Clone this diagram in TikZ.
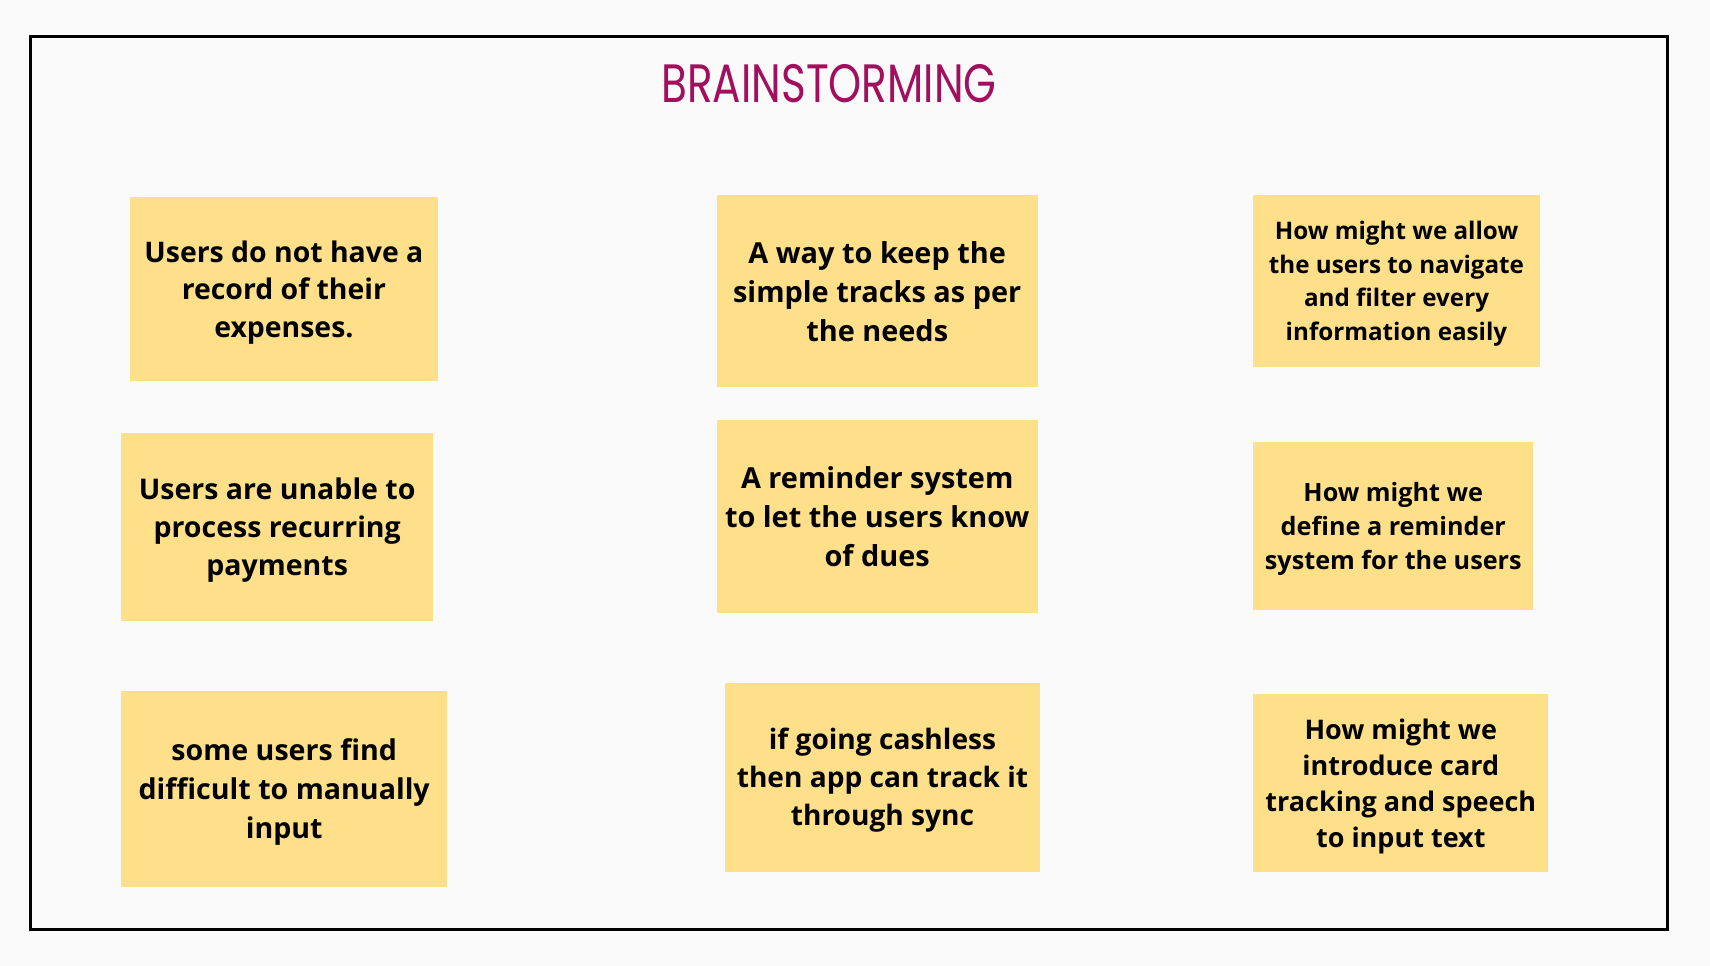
\documentclass[tikz,border=0pt]{standalone}
\usepackage{fontspec}
\usepackage{xcolor}
\usepackage{tikz}
\setsansfont{Open Sans}
\newfontfamily\titlefont{Poppins}
\renewcommand{\familydefault}{\sfdefault}
\definecolor{boardGrey}{RGB}{250,250,250}
\definecolor{noteYellow}{RGB}{255,224,138}
\definecolor{titleMagenta}{RGB}{160,16,94}
\tikzset{sticky/.style={fill=noteYellow,align=center,inner sep=0pt,text depth=0pt}}

\begin{document}
\begin{tikzpicture}[x=1pt,y=-1pt]
\fill[boardGrey] (0,0) rectangle (1710,966);
\useasboundingbox (0,0) rectangle (1710,966);
\draw[line width=3pt] (30.8,36.5) rectangle (1667,929);
\node[text=titleMagenta,font=\titlefont\fontsize{54}{60}\selectfont,xscale=0.78,transform shape] (title) at (829,84) {BRAINSTORMING};
% problems
\node[sticky,minimum width=307.7,minimum height=184.3,font=\bfseries\fontsize{28.4}{37.5}\selectfont] (usrrec) at (283.9,288.9) {Users do not have a\\ record of their\\ expenses.};
\node[sticky,minimum width=312.3,minimum height=187.4,font=\bfseries\fontsize{28.5}{38}\selectfont] (usrpay) at (277.2,527) {Users are unable to\\ process recurring\\ payments};
\node[sticky,minimum width=326.3,minimum height=195.7,font=\bfseries\fontsize{28.6}{39}\selectfont] (usrinput) at (284.2,788.9) {some users find\\ difficult to manually\\ input};
% ideas
\node[sticky,minimum width=321,minimum height=192.3,font=\bfseries\fontsize{28.9}{39}\selectfont] (keeptrack) at (877.2,291.2) {A way to keep the\\ simple tracks as per\\ the needs};
\node[sticky,minimum width=321,minimum height=192.7,font=\bfseries\fontsize{28.9}{39}\selectfont] (reminder) at (877.2,516.4) {A reminder system\\ to let the users know\\ of dues};
\node[sticky,minimum width=315,minimum height=189,font=\bfseries\fontsize{28.1}{38}\selectfont] (cashless) at (882.5,777.2) {if going cashless\\ then app can track it\\ through sync};
% how might we
\node[sticky,minimum width=287,minimum height=171.7,font=\bfseries\fontsize{24.2}{33.5}\selectfont] (hmwfilter) at (1396.5,280.9) {How might we allow\\ the users to navigate\\ and filter every\\ information easily};
\node[sticky,minimum width=280,minimum height=168.3,font=\bfseries\fontsize{25.2}{34}\selectfont] (hmwremind) at (1393.3,525.9) {How might we\\ define a reminder\\ system for the users};
\node[sticky,minimum width=295,minimum height=177.4,font=\bfseries\fontsize{27}{36}\selectfont] (hmwcard) at (1400.8,783) {How might we\\ introduce card\\ tracking and speech\\ to input text};
\end{tikzpicture}
\end{document}
